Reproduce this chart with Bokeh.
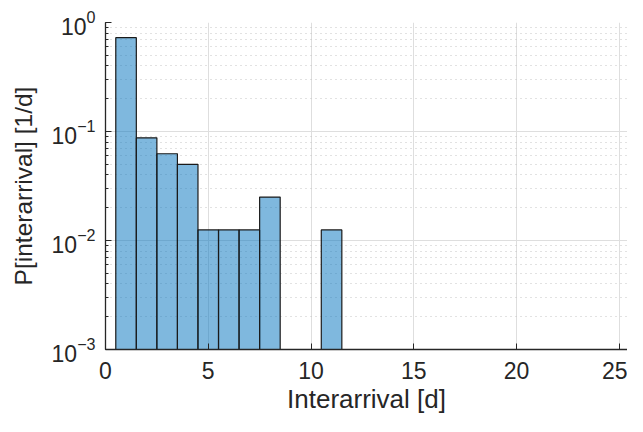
from bokeh.plotting import figure
from bokeh.embed import file_html
from bokeh.resources import INLINE
from bokeh.models import FixedTicker, Range1d, LogTicker

# Histogram data (bin edges and probability per bin, 1/d)
bin_left = [0.5, 1.5, 2.5, 3.5, 4.5, 5.5, 6.5, 7.5, 10.5]
bin_right = [1.5, 2.5, 3.5, 4.5, 5.5, 6.5, 7.5, 8.5, 11.5]
prob = [0.725, 0.0875, 0.0625, 0.05, 0.0125, 0.0125, 0.0125, 0.025, 0.0125]
bottom = [0.001] * len(prob)

x_ticks = [0, 5, 10, 15, 20, 25]

FONT = "Liberation Sans"
AX = "#262626"

p = figure(width=627, height=416, y_axis_type="log", output_backend="svg",
           toolbar_location=None, x_range=Range1d(0, 25.4), y_range=Range1d(1e-3, 1),
           min_border_left=105, min_border_top=22, min_border_bottom=63, min_border_right=0)

p.quad(left=bin_left, right=bin_right, top=prob, bottom=bottom,
       fill_color="#0072BD", fill_alpha=0.5, line_color="#1a1a1a", line_width=1.2)

p.outline_line_color = None
p.background_fill_color = "white"
p.border_fill_color = "white"

p.xaxis.ticker = FixedTicker(ticks=x_ticks)
p.yaxis.ticker = LogTicker(desired_num_ticks=4, num_minor_ticks=10)

for ax in (p.xaxis, p.yaxis):
    ax.axis_line_color = AX
    ax.axis_line_width = 1.3
    ax.major_tick_line_color = AX
    ax.minor_tick_line_color = AX
    ax.major_tick_in = 6
    ax.major_tick_out = 0
    ax.minor_tick_in = 3
    ax.minor_tick_out = 0
    ax.major_label_text_font = FONT
    ax.major_label_text_font_size = "23px"
    ax.major_label_text_color = AX
    ax.axis_label_text_font = FONT
    ax.axis_label_text_font_style = "normal"
    ax.axis_label_text_color = AX

p.xaxis.axis_label_text_font_size = "26px"
p.yaxis.axis_label_text_font_size = "24.5px"
p.xaxis.minor_tick_line_color = None
p.xaxis.axis_label = "Interarrival [d]"
p.yaxis.axis_label = "P[interarrival] [1/d]"
p.xaxis.major_label_standoff = 12
p.yaxis.major_label_standoff = 10
p.xaxis.axis_label_standoff = 2
p.yaxis.axis_label_standoff = 12

p.xgrid.grid_line_color = "#dedede"
p.xgrid.grid_line_width = 1
p.ygrid.grid_line_color = "#dedede"
p.ygrid.grid_line_width = 1
p.ygrid.minor_grid_line_color = "#c4c4c4"
p.ygrid.minor_grid_line_dash = "1 4"
p.ygrid.minor_grid_line_width = 1

open("out.html", "w").write(file_html(p, INLINE))
